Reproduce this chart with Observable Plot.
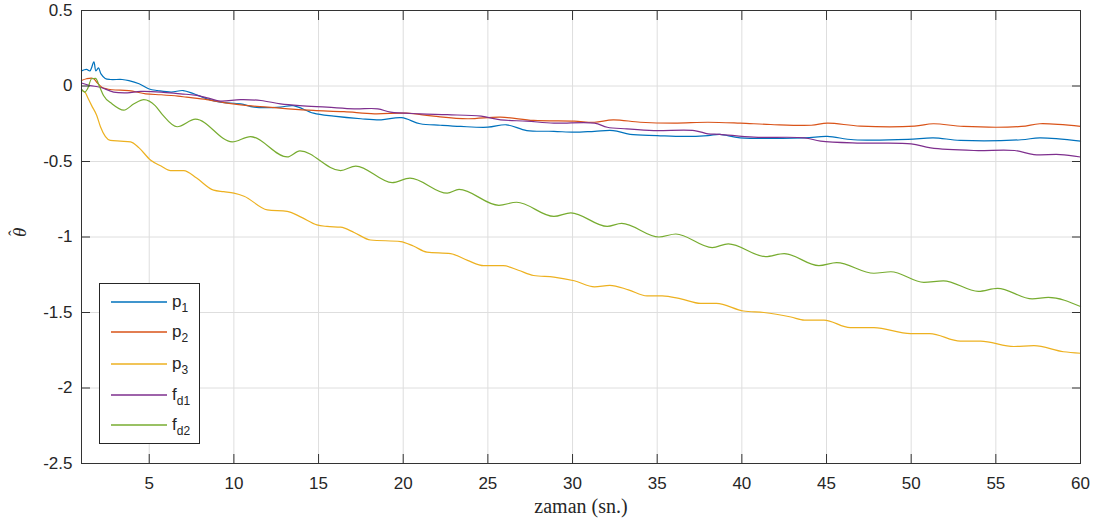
<!DOCTYPE html>
<html><head><meta charset="utf-8">
<script src="https://cdn.jsdelivr.net/npm/d3@7"></script>
<script src="https://cdn.jsdelivr.net/npm/@observablehq/plot@0.6"></script>
<style>
body{margin:0;background:#fff;}
#wrap{position:relative;width:1105px;height:529px;}
#legend{position:absolute;left:99px;top:283px;}
</style></head>
<body><div id="wrap"><div id="legend"></div></div>
<script>
// ---- data ----
const xTicks = [5,10,15,20,25,30,35,40,45,50,55,60];
const yTicks = [-2.5,-2,-1.5,-1,-0.5,0,0.5];
const seriesKeys = ["p1","p2","p3","fd1","fd2"];
const seriesMain = ["p","p","p","f","f"];
const seriesSub = ["1","2","3","d1","d2"];
const seriesColors = ["#0072BD","#D95319","#EDB120","#7E2F8E","#77AC30"];
const wavySeries = ["p3","fd2"];

const p1T = [1,1.3,1.5,1.73,1.85,2.0,2.15,2.4,2.7,3.4,3.8,4.4,5.0,5.5,6.3,7.0,7.6,8.4,9.2,10.4,11.2,12.75,13.5,14.7,15.9,17.5,18.7,19.9,21.0,22.2,23.4,25.0,26.1,27.3,28.9,30.1,31.3,32.4,33.4,35.0,36.6,38.0,38.7,39.9,43.7,45.05,46.6,49.8,51.3,52.9,56.5,57.6,60];
const p1V = [0.10,0.11,0.10,0.16,0.10,0.12,0.08,0.05,0.043,0.043,0.036,0.015,-0.02,-0.03,-0.04,-0.03,-0.05,-0.085,-0.107,-0.118,-0.14,-0.14,-0.13,-0.18,-0.20,-0.217,-0.224,-0.21,-0.25,-0.26,-0.268,-0.273,-0.257,-0.295,-0.30,-0.306,-0.30,-0.295,-0.32,-0.328,-0.334,-0.328,-0.32,-0.343,-0.343,-0.334,-0.356,-0.354,-0.343,-0.36,-0.356,-0.343,-0.365];

const p2T = [1,1.3,1.7,1.9,2.2,2.8,3.8,4.8,5.7,6.7,7.2,8.4,9.6,10.8,12.0,13.2,14.7,16.5,18.3,20.2,21.8,23.8,25.75,27.7,30.1,31.3,32.4,34.0,36.0,38.0,39.9,41.7,44.1,45.05,47.0,50.2,51.3,53.1,56.5,57.6,60];
const p2V = [0.036,0.048,0.05,0.025,-0.008,-0.025,-0.03,-0.052,-0.058,-0.067,-0.074,-0.09,-0.114,-0.13,-0.14,-0.151,-0.162,-0.17,-0.184,-0.18,-0.20,-0.217,-0.206,-0.228,-0.233,-0.24,-0.224,-0.24,-0.246,-0.24,-0.246,-0.255,-0.26,-0.246,-0.266,-0.266,-0.25,-0.268,-0.268,-0.25,-0.268];

const p3T = [1,1.2,1.4,1.6,1.9,2.12,2.7,3.3,3.9,4.4,5.07,5.7,6.26,7.04,7.8,8.8,9.4,10.0,10.6,11.97,13.15,14.0,14.9,15.5,16.3,17.1,18.07,19.85,20.6,21.4,22.8,23.8,24.76,25.9,26.8,27.7,28.9,30.1,31.3,32.2,33.3,34.4,35.3,36.4,37.56,38.5,40.1,41.3,42.9,43.7,44.85,46.4,47.8,49.96,51.1,52.9,54.1,56.07,57.25,59.0,60];
const p3V = [-0.03,-0.04,-0.085,-0.13,-0.195,-0.27,-0.36,-0.365,-0.37,-0.41,-0.49,-0.53,-0.56,-0.56,-0.61,-0.69,-0.70,-0.71,-0.73,-0.82,-0.83,-0.87,-0.92,-0.93,-0.935,-0.97,-1.02,-1.03,-1.06,-1.10,-1.11,-1.155,-1.19,-1.19,-1.22,-1.255,-1.266,-1.29,-1.33,-1.32,-1.35,-1.39,-1.39,-1.41,-1.44,-1.44,-1.49,-1.50,-1.53,-1.55,-1.55,-1.60,-1.60,-1.64,-1.64,-1.69,-1.69,-1.725,-1.72,-1.76,-1.77];

const fd1T = [1,1.5,2.1,2.9,3.7,4.5,5.7,6.85,7.7,8.5,9.2,10.4,11.6,12.75,13.9,15.5,17.1,18.5,19.25,21.0,22.6,24.6,25.75,27.3,28.9,31.3,32.05,33.2,34.8,37.2,38.0,38.7,40.7,43.7,44.65,47.0,50.0,51.15,53.7,56.1,57.25,58.8,60];
const fd1V = [0.02,0.003,-0.008,-0.04,-0.045,-0.036,-0.04,-0.052,-0.06,-0.08,-0.10,-0.09,-0.096,-0.118,-0.13,-0.14,-0.151,-0.151,-0.173,-0.184,-0.19,-0.20,-0.224,-0.233,-0.246,-0.246,-0.273,-0.284,-0.295,-0.295,-0.317,-0.32,-0.339,-0.343,-0.365,-0.378,-0.383,-0.41,-0.427,-0.427,-0.454,-0.454,-0.47];

const fd2T = [1,1.2,1.35,1.6,1.83,2.05,2.3,2.8,3.5,4.1,4.68,5.35,5.74,6.65,7.73,9.9,10.98,13.15,13.9,16.3,17.2,19.35,20.4,22.6,23.3,25.65,26.7,28.9,29.9,32.05,32.9,35.1,36.1,38.25,39.2,41.4,42.5,44.55,45.6,47.8,48.8,50.75,51.9,53.97,55.1,57.15,58.1,60];
const fd2V = [-0.02,-0.04,-0.02,0.048,0.05,0.0,-0.063,-0.118,-0.16,-0.118,-0.09,-0.13,-0.184,-0.27,-0.22,-0.37,-0.335,-0.47,-0.43,-0.56,-0.53,-0.64,-0.61,-0.71,-0.685,-0.79,-0.77,-0.864,-0.84,-0.93,-0.91,-1.00,-0.98,-1.07,-1.045,-1.13,-1.11,-1.19,-1.17,-1.24,-1.23,-1.30,-1.29,-1.36,-1.34,-1.41,-1.40,-1.46];

const xLabel = "zaman (sn.)";
const yLabel = "\u03B8";
const yLabelHat = "\u02C6";

// ---- build table ----
const seriesT = [p1T,p2T,p3T,fd1T,fd2T];
const seriesV = [p1V,p2V,p3V,fd1V,fd2V];
const rows = [];
seriesKeys.forEach((k,i)=>{
  seriesT[i].forEach((t,j)=>rows.push({s:k,t,v:seriesV[i][j]}));
});
const smoothRows = rows.filter(r=>!wavySeries.includes(r.s));
const wavyRows = rows.filter(r=>wavySeries.includes(r.s));

const serif = "'Liberation Serif', 'Times New Roman', serif";
const chart = Plot.plot({
  width:1105, height:529,
  marginLeft:81, marginRight:25, marginTop:10, marginBottom:66,
  x:{domain:[1,60]},
  y:{domain:[-2.5,0.5]},
  color:{domain:seriesKeys, range:seriesColors},
  style:{fontFamily:"'Liberation Sans', Arial, sans-serif", fontSize:"17px", color:"#262626", background:"#fff"},
  marks:[
    Plot.gridX(xTicks,{stroke:"#dedede", strokeOpacity:1}),
    Plot.gridY(yTicks,{stroke:"#dedede", strokeOpacity:1}),
    Plot.line(smoothRows,{x:"t", y:"v", z:"s", stroke:"s", curve:"catmull-rom", strokeWidth:1.2}),
    Plot.line(wavyRows,{x:"t", y:"v", z:"s", stroke:"s", curve:"monotone-x", strokeWidth:1.2}),
    Plot.frame({stroke:"#333"}),
    Plot.axisX(xTicks,{anchor:"bottom", tickSize:-9, fill:"none", stroke:"#333"}),
    Plot.axisX(xTicks,{anchor:"top", tickSize:-9, fill:"none", stroke:"#333"}),
    Plot.axisY(yTicks,{anchor:"left", tickSize:-9, fill:"none", stroke:"#333"}),
    Plot.axisY(yTicks,{anchor:"right", tickSize:-9, fill:"none", stroke:"#333"}),
    Plot.axisX(xTicks,{anchor:"bottom", tickSize:0, tickPadding:13, tickFormat:d=>String(d), label:null, fill:"#262626"}),
    Plot.axisY(yTicks,{anchor:"left", tickSize:0, tickPadding:9, tickFormat:d=>String(d), label:null, fill:"#262626"}),
    Plot.text([xLabel],{frameAnchor:"bottom", dy:49, text:d=>d, fontFamily:serif, fontSize:20, fill:"#262626"}),
    Plot.text([yLabel],{frameAnchor:"left", dx:-62, rotate:-90, text:d=>d, fontFamily:serif, fontStyle:"italic", fontSize:19, fill:"#262626"}),
    Plot.text([yLabelHat],{frameAnchor:"left", dx:-67, dy:-1, rotate:-90, text:d=>d, fontFamily:serif, fontSize:17, fill:"#262626"})
  ]
});
document.getElementById("wrap").prepend(chart);

// ---- legend (HTML overlay, drawn as a small SVG) ----
const NS = "http://www.w3.org/2000/svg";
const lg = document.createElementNS(NS,"svg");
lg.setAttribute("width",102); lg.setAttribute("height",162);
lg.style.display = "block";
const box = document.createElementNS(NS,"rect");
box.setAttribute("x",0.5); box.setAttribute("y",0.5);
box.setAttribute("width",100); box.setAttribute("height",160);
box.setAttribute("fill","#fff"); box.setAttribute("stroke","#262626");
lg.append(box);
const itemY = [19,49,81,112,142];
seriesKeys.forEach((k,i)=>{
  const ln = document.createElementNS(NS,"line");
  ln.setAttribute("x1",12); ln.setAttribute("x2",68);
  ln.setAttribute("y1",itemY[i]); ln.setAttribute("y2",itemY[i]);
  ln.setAttribute("stroke",seriesColors[i]); ln.setAttribute("stroke-width",1.3);
  lg.append(ln);
  const tx = document.createElementNS(NS,"text");
  tx.setAttribute("x",73); tx.setAttribute("y",itemY[i]+5);
  tx.setAttribute("font-family","'Liberation Sans', Arial, sans-serif");
  tx.setAttribute("font-size",17); tx.setAttribute("fill","#262626");
  tx.append(seriesMain[i]);
  const ts = document.createElementNS(NS,"tspan");
  ts.setAttribute("dy",5); ts.setAttribute("font-size",12);
  ts.textContent = seriesSub[i];
  tx.append(ts);
  lg.append(tx);
});
document.getElementById("legend").append(lg);
</script>
</body></html>
